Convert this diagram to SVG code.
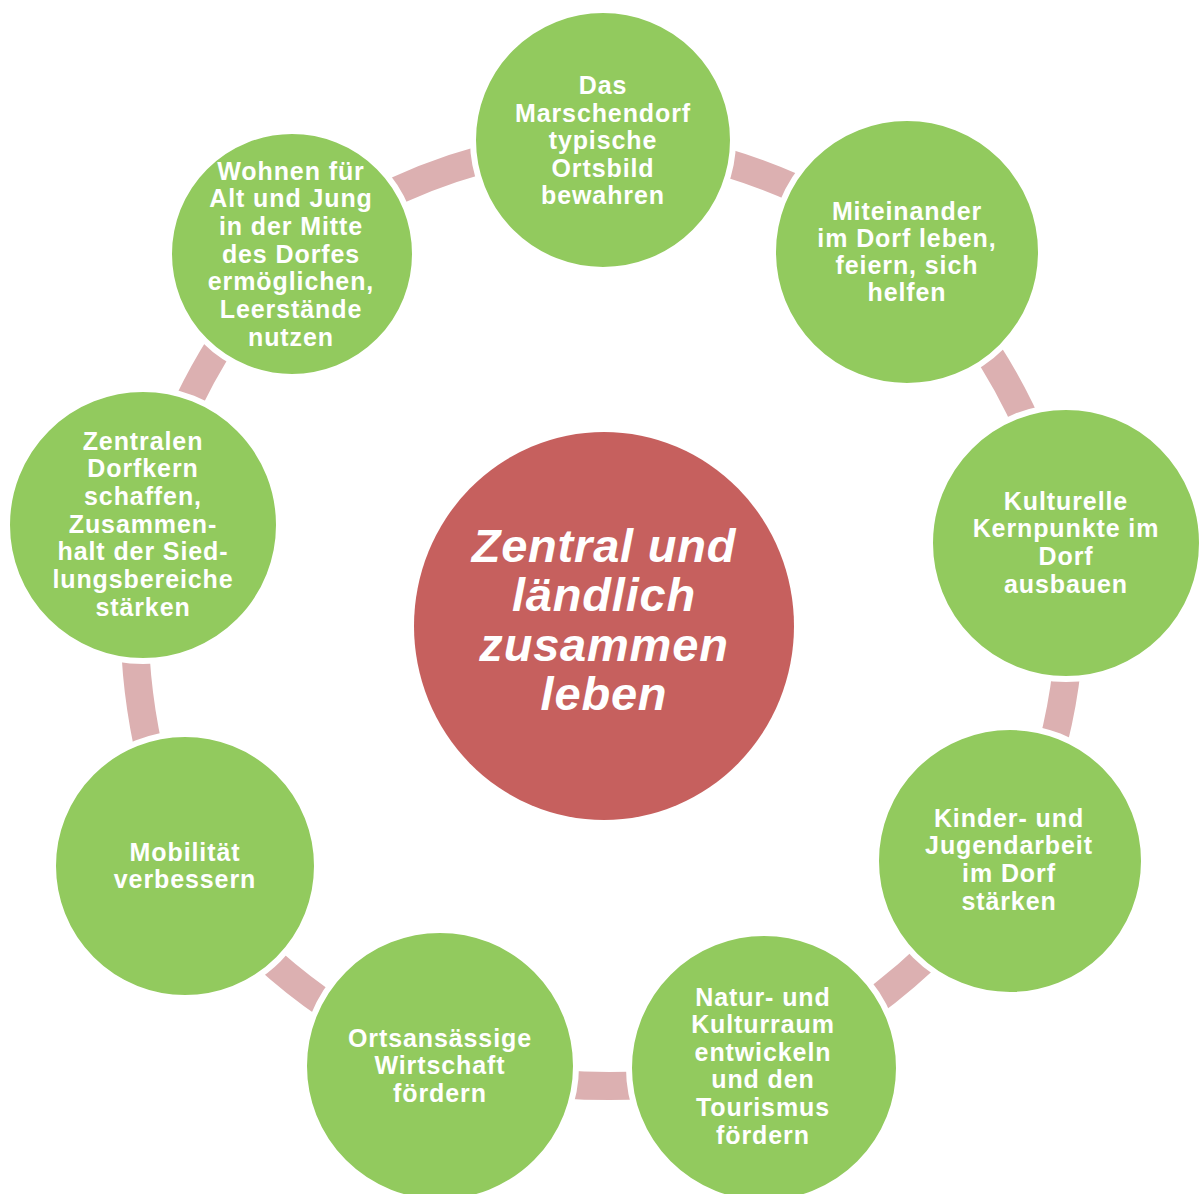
<svg xmlns="http://www.w3.org/2000/svg" width="1203" height="1194" viewBox="0 0 1203 1194">
<style>
.band{fill:none;stroke:#DCB0B1;stroke-width:28;}
.node{fill:#92CA5E;stroke:#FFFFFF;stroke-width:6;}
.hub{fill:#C6605E;}
.t{font-family:"Liberation Sans",Arial,sans-serif;font-weight:bold;font-size:25px;letter-spacing:0.9px;fill:#FFFFFF;text-anchor:middle;}
.ht{font-family:"Liberation Sans",Arial,sans-serif;font-weight:bold;font-style:italic;font-size:47px;letter-spacing:0.8px;fill:#FFFFFF;text-anchor:middle;}
</style>
<rect x="0" y="0" width="1203" height="1194" fill="#FFFFFF"/>
<g id="connectors">
<path class="band" d="M292,254 Q426.5,151 603,140"/>
<path class="band" d="M603,140 Q765,152 907,252"/>
<path class="band" d="M907,252 Q1029.5,374.5 1066,543"/>
<path class="band" d="M1066,543 Q1086,702 1010,861"/>
<path class="band" d="M1010,861 Q915,995.5 764,1068"/>
<path class="band" d="M764,1068 Q608,1105 440,1066"/>
<path class="band" d="M440,1066 Q283.5,1002 185,866"/>
<path class="band" d="M185,866 Q114,690.5 143,525"/>
<path class="band" d="M143,525 Q188.5,358.5 292,254"/>
</g>
<g id="hub">
<ellipse class="hub" cx="604" cy="626" rx="190" ry="194"/>
<text class="ht" x="604" y="562">Zentral und<tspan x="604" dy="49.3">ländlich</tspan><tspan x="604" dy="49.3">zusammen</tspan><tspan x="604" dy="49.3">leben</tspan></text>
</g>
<g id="node-ortsbild">
<circle class="node" cx="603" cy="140" r="130"/>
<text class="t" x="603" y="94">Das<tspan x="603" dy="27.5">Marschendorf</tspan><tspan x="603" dy="27.5">typische</tspan><tspan x="603" dy="27.5">Ortsbild</tspan><tspan x="603" dy="27.5">bewahren</tspan></text>
</g>
<g id="node-miteinander">
<circle class="node" cx="907" cy="252" r="134"/>
<text class="t" x="907" y="219.5">Miteinander<tspan x="907" dy="27.3">im Dorf leben,</tspan><tspan x="907" dy="27.3">feiern, sich</tspan><tspan x="907" dy="27.3">helfen</tspan></text>
</g>
<g id="node-kultur">
<circle class="node" cx="1066" cy="543" r="136"/>
<text class="t" x="1066" y="509.5">Kulturelle<tspan x="1066" dy="27.7">Kernpunkte im</tspan><tspan x="1066" dy="27.7">Dorf</tspan><tspan x="1066" dy="27.7">ausbauen</tspan></text>
</g>
<g id="node-kinder">
<circle class="node" cx="1010" cy="861" r="134"/>
<text class="t" x="1009" y="826.5">Kinder- und<tspan x="1009" dy="27.7">Jugendarbeit</tspan><tspan x="1009" dy="27.7">im Dorf</tspan><tspan x="1009" dy="27.7">stärken</tspan></text>
</g>
<g id="node-natur">
<circle class="node" cx="764" cy="1068" r="135"/>
<text class="t" x="763" y="1005.5">Natur- und<tspan x="763" dy="27.6">Kulturraum</tspan><tspan x="763" dy="27.6">entwickeln</tspan><tspan x="763" dy="27.6">und den</tspan><tspan x="763" dy="27.6">Tourismus</tspan><tspan x="763" dy="27.6">fördern</tspan></text>
</g>
<g id="node-wirtschaft">
<circle class="node" cx="440" cy="1066" r="136"/>
<text class="t" x="440" y="1046.5">Ortsansässige<tspan x="440" dy="27.5">Wirtschaft</tspan><tspan x="440" dy="27.5">fördern</tspan></text>
</g>
<g id="node-mobilitaet">
<circle class="node" cx="185" cy="866" r="132"/>
<text class="t" x="185" y="860.5">Mobilität<tspan x="185" dy="27.5">verbessern</tspan></text>
</g>
<g id="node-dorfkern">
<circle class="node" cx="143" cy="525" r="136"/>
<text class="t" x="143" y="449.5">Zentralen<tspan x="143" dy="27.7">Dorfkern</tspan><tspan x="143" dy="27.7">schaffen,</tspan><tspan x="143" dy="27.7">Zusammen-</tspan><tspan x="143" dy="27.7">halt der Sied-</tspan><tspan x="143" dy="27.7">lungsbereiche</tspan><tspan x="143" dy="27.7">stärken</tspan></text>
</g>
<g id="node-wohnen">
<circle class="node" cx="292" cy="254" r="123"/>
<text class="t" x="291" y="179.5">Wohnen für<tspan x="291" dy="27.7">Alt und Jung</tspan><tspan x="291" dy="27.7">in der Mitte</tspan><tspan x="291" dy="27.7">des Dorfes</tspan><tspan x="291" dy="27.7">ermöglichen,</tspan><tspan x="291" dy="27.7">Leerstände</tspan><tspan x="291" dy="27.7">nutzen</tspan></text>
</g>
</svg>
